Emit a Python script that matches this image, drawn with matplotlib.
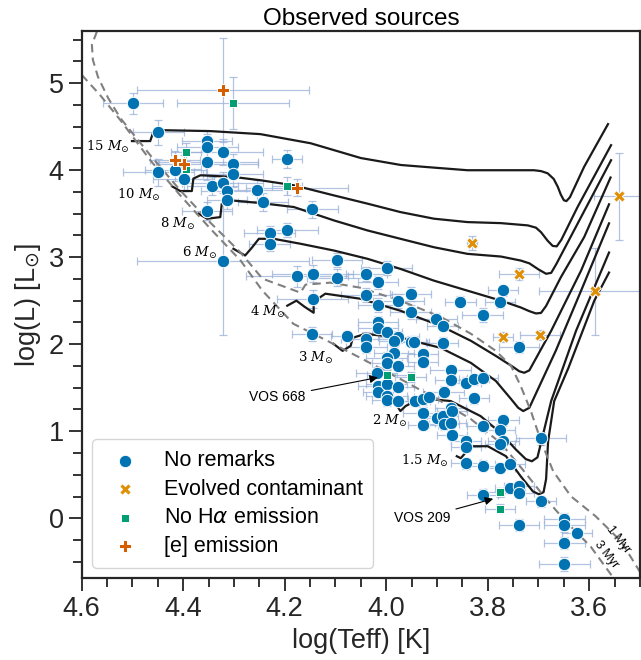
import numpy as np
import matplotlib
matplotlib.use("Agg")
import matplotlib.pyplot as plt

plt.rcParams['font.family'] = ['Liberation Sans', 'DejaVu Sans']
plt.rcParams['mathtext.fontset'] = 'dejavusans'

# --- observed sources: log(Teff), log(L) and errors ---
blue_x = [4.499, 4.449, 4.353, 4.353, 4.322, 4.353, 4.449, 4.416, 4.399, 4.343,
          4.322, 4.302, 4.302, 4.314, 4.314, 4.353, 4.255, 4.243, 4.195, 4.146,
          4.230, 4.230, 4.195, 4.322, 4.097, 4.176, 4.145, 4.097, 4.145, 4.039,
          3.999, 4.016, 4.039, 4.016, 3.976, 3.952, 3.952, 3.854, 3.810, 3.776,
          3.770, 3.901, 3.889, 4.146, 4.078, 4.039, 4.016, 4.016, 3.999, 3.976,
          3.952, 3.945, 3.889, 3.738, 4.039, 3.985, 3.985, 3.927, 3.999, 3.999,
          3.976, 4.019, 4.016, 4.016, 3.999, 3.999, 3.999, 3.976, 3.976, 3.944,
          3.927, 3.916, 3.927, 3.927, 3.900, 3.889, 3.886, 3.873, 3.870, 3.873,
          3.870, 3.873, 3.873, 3.887, 3.843, 3.827, 3.810, 3.827, 3.927, 3.810,
          3.769, 3.776, 3.769, 3.776, 3.695, 3.843, 3.843, 3.843, 3.810, 3.776,
          3.756, 3.756, 3.738, 3.738, 3.810, 3.695, 3.738, 3.649, 3.649, 3.624,
          3.649, 3.649]
blue_y = [4.77, 4.435, 4.335, 4.27, 4.21, 4.09, 3.974, 4.00, 3.896, 3.82,
          3.858, 4.066, 3.96, 3.758, 3.654, 3.53, 3.77, 3.634, 4.127, 3.55,
          3.28, 3.155, 3.31, 2.96, 2.97, 2.78, 2.81, 2.766, 2.52, 2.81,
          2.873, 2.71, 2.566, 2.455, 2.50, 2.578, 2.366, 2.49, 2.336, 2.48,
          2.62, 2.29, 2.21, 2.116, 2.097, 2.06, 2.26, 2.19, 2.143, 2.085,
          2.03, 2.03, 2.02, 1.97, 1.965, 2.04, 1.905, 1.886, 1.847, 1.78,
          1.75, 1.674, 1.52, 1.455, 1.54, 1.405, 1.355, 1.51, 1.347, 1.347,
          1.367, 1.393, 1.213, 1.07, 1.155, 1.174, 1.078, 1.27, 1.232, 1.097,
          0.955, 1.705, 1.59, 1.455, 1.558, 1.597, 1.61, 1.378, 1.80, 1.06,
          1.125, 1.02, 0.886, 0.85, 0.917, 0.886, 0.817, 0.63, 0.605, 0.578,
          0.624, 0.347, 0.367, 0.29, 0.271, 0.194, -0.075, -0.006, -0.083, -0.17,
          -0.287, -0.53]
blue_xerr = [0.06, 0.05, 0.05, 0.06, 0.08, 0.10, 0.07, 0.06, 0.06, 0.05,
             0.08, 0.05, 0.06, 0.05, 0.04, 0.05, 0.06, 0.05, 0.03, 0.05,
             0.05, 0.04, 0.06, 0.17, 0.05, 0.10, 0.08, 0.06, 0.07, 0.04,
             0.05, 0.04, 0.05, 0.04, 0.05, 0.04, 0.04, 0.03, 0.04, 0.03,
             0.03, 0.04, 0.03, 0.04, 0.03, 0.05, 0.04, 0.04, 0.03, 0.04,
             0.03, 0.03, 0.03, 0.04, 0.04, 0.03, 0.04, 0.03, 0.04, 0.03,
             0.03, 0.04, 0.04, 0.03, 0.04, 0.04, 0.03, 0.03, 0.03, 0.03,
             0.03, 0.03, 0.04, 0.03, 0.03, 0.03, 0.03, 0.03, 0.03, 0.03,
             0.03, 0.04, 0.03, 0.04, 0.03, 0.03, 0.03, 0.03, 0.03, 0.03,
             0.03, 0.03, 0.03, 0.03, 0.05, 0.03, 0.03, 0.03, 0.03, 0.03,
             0.03, 0.03, 0.03, 0.03, 0.03, 0.03, 0.04, 0.04, 0.04, 0.03,
             0.04, 0.05]
blue_yerr = [0.12, 0.14, 0.12, 0.15, 0.15, 0.20, 0.15, 0.12, 0.14, 0.10,
             0.12, 0.12, 0.15, 0.10, 0.10, 0.10, 0.12, 0.10, 0.10, 0.10,
             0.08, 0.08, 0.08, 0.85, 0.08, 0.12, 0.10, 0.10, 0.10, 0.08,
             0.08, 0.08, 0.08, 0.08, 0.08, 0.08, 0.08, 0.06, 0.08, 0.06,
             0.06, 0.07, 0.06, 0.08, 0.06, 0.08, 0.07, 0.07, 0.06, 0.07,
             0.06, 0.06, 0.06, 0.07, 0.06, 0.06, 0.06, 0.06, 0.06, 0.06,
             0.06, 0.06, 0.06, 0.06, 0.06, 0.06, 0.06, 0.06, 0.06, 0.06,
             0.06, 0.06, 0.06, 0.06, 0.06, 0.06, 0.06, 0.06, 0.06, 0.06,
             0.06, 0.06, 0.06, 0.06, 0.06, 0.06, 0.06, 0.06, 0.06, 0.06,
             0.06, 0.06, 0.06, 0.06, 0.08, 0.06, 0.06, 0.06, 0.06, 0.06,
             0.06, 0.06, 0.06, 0.06, 0.06, 0.06, 0.07, 0.07, 0.07, 0.06,
             0.07, 0.08]

evol_x = [3.541, 3.831, 3.738, 3.588, 3.770, 3.697]
evol_y = [3.70, 3.16, 2.81, 2.61, 2.085, 2.105]
evol_xerr = [0.05, 0.01, 0.04, 0.11, 0.02, 0.04]
evol_yerr = [0.50, 0.08, 0.07, 0.50, 0.06, 0.06]

noha_x = [4.302, 4.395, 4.395, 4.195, 3.998, 3.952, 3.776, 3.776]
noha_y = [4.776, 4.21, 4.01, 3.82, 1.647, 1.624, 0.30, 0.11]
noha_xerr = [0.11, 0.03, 0.03, 0.03, 0.04, 0.03, 0.03, 0.03]
noha_yerr = [0.30, 0.10, 0.10, 0.10, 0.06, 0.06, 0.05, 0.05]

emis_x = [4.322, 4.416, 4.398, 4.176]
emis_y = [4.92, 4.12, 4.07, 3.80]
emis_xerr = [0.17, 0.05, 0.05, 0.10]
emis_yerr = [0.60, 0.10, 0.10, 0.10]

# --- pre-main-sequence tracks ---
trk15_x = [4.501, 4.465, 4.459, 4.439, 4.347, 4.248, 4.149, 4.050, 3.971, 3.906,
           3.840, 3.775, 3.709, 3.695, 3.682, 3.670, 3.662, 3.656, 3.650, 3.645,
           3.638, 3.610, 3.563]
trk15_y = [4.335, 4.335, 4.44, 4.46, 4.45, 4.415, 4.31, 4.14, 4.06, 4.03,
           4.00, 4.00, 4.00, 3.99, 3.965, 3.90, 3.81, 3.72, 3.655, 3.645,
           3.69, 4.04, 4.53]
trk10_x = [4.422, 4.406, 4.383, 4.380, 4.366, 4.301, 4.248, 4.182, 4.104, 4.037,
           3.972, 3.906, 3.840, 3.774, 3.721, 3.705, 3.695, 3.682, 3.672, 3.664,
           3.655, 3.623, 3.557]
trk10_y = [3.815, 3.761, 3.761, 3.904, 3.942, 3.923, 3.885, 3.827, 3.712, 3.616,
           3.519, 3.443, 3.404, 3.392, 3.366, 3.34, 3.288, 3.19, 3.13, 3.125,
           3.20, 3.577, 4.288]
trk8_x = [4.370, 4.353, 4.327, 4.324, 4.307, 4.248, 4.182, 4.103, 4.037, 3.972,
          3.906, 3.840, 3.774, 3.735, 3.718, 3.700, 3.685, 3.675, 3.665, 3.623,
          3.557]
trk8_y = [3.501, 3.443, 3.461, 3.616, 3.654, 3.623, 3.577, 3.423, 3.308, 3.212,
          3.115, 3.039, 3.008, 2.962, 2.93, 2.86, 2.81, 2.82, 2.92, 3.385,
          4.115]
trk6_x = [4.301, 4.278, 4.264, 4.251, 4.222, 4.169, 4.103, 4.037, 3.972, 3.906,
          3.840, 3.774, 3.735, 3.718, 3.705, 3.695, 3.685, 3.656, 3.610, 3.558]
trk6_y = [3.097, 3.020, 3.115, 3.212, 3.212, 3.155, 3.077, 2.982, 2.866, 2.731,
          2.616, 2.501, 2.423, 2.38, 2.354, 2.36, 2.44, 2.769, 3.231, 3.916]
trk4_x = [4.195, 4.177, 4.161, 4.143, 4.143, 4.120, 4.051, 3.972, 3.893, 3.833,
          3.784, 3.750, 3.738, 3.728, 3.718, 3.675, 3.616, 3.561]
trk4_y = [2.443, 2.501, 2.431, 2.362, 2.489, 2.581, 2.523, 2.385, 2.212, 2.039,
          1.866, 1.739, 1.69, 1.672, 1.70, 2.154, 2.847, 3.608]
trk3_x = [4.104, 4.086, 4.070, 4.066, 4.041, 3.972, 3.893, 3.833, 3.784, 3.754,
          3.740, 3.730, 3.718, 3.666, 3.616, 3.561]
trk3_y = [2.005, 1.924, 1.982, 2.074, 2.120, 2.074, 1.959, 1.785, 1.578, 1.370,
          1.27, 1.232, 1.27, 1.924, 2.616, 3.389]
trk2_x = [3.981, 3.972, 3.962, 3.932, 3.873, 3.814, 3.774, 3.745, 3.725, 3.713,
          3.702, 3.675, 3.626, 3.561]
trk2_y = [1.312, 1.232, 1.289, 1.381, 1.347, 1.174, 0.978, 0.793, 0.68, 0.655,
          0.70, 1.347, 2.154, 3.054]
trk15b_x = [3.861, 3.853, 3.833, 3.800, 3.764, 3.735, 3.711, 3.699, 3.690, 3.685,
            3.681, 3.669, 3.641, 3.590, 3.561]
trk15b_y = [0.713, 0.690, 0.828, 0.828, 0.713, 0.482, 0.309, 0.275, 0.30, 0.45,
            0.886, 1.347, 1.728, 2.501, 2.824]

track_labels = ['15 $M_{\\odot}$', '10 $M_{\\odot}$', '8 $M_{\\odot}$', '6 $M_{\\odot}$',
                '4 $M_{\\odot}$', '3 $M_{\\odot}$', '2 $M_{\\odot}$', '1.5 $M_{\\odot}$']
label_x = [4.505, 4.445, 4.376, 4.333, 4.199, 4.104, 3.958, 3.876]
label_y = [4.269, 3.712, 3.385, 3.05, 2.366, 1.847, 1.116, 0.655]

# --- isochrones ---
iso1_x = [4.570, 4.580, 4.578, 4.568, 4.548, 4.524, 4.465, 4.406, 4.347, 4.287,
          4.244, 4.169, 4.159, 4.110, 4.051, 3.972, 3.893, 3.833, 3.784, 3.754,
          3.735, 3.715, 3.695, 3.671, 3.636, 3.587, 3.537, 3.498]
iso1_y = [5.595, 5.442, 5.268, 5.073, 4.830, 4.600, 4.173, 3.769, 3.400, 3.054,
          2.754, 2.593, 2.685, 2.708, 2.650, 2.500, 2.316, 2.120, 1.924, 1.751,
          1.520, 1.232, 0.886, 0.540, 0.252, 0.021, -0.267, -0.636]
iso3_x = [4.600, 4.564, 4.524, 4.465, 4.406, 4.347, 4.287, 4.244, 4.183, 4.116,
          4.051, 3.972, 3.893, 3.833, 3.774, 3.725, 3.686, 3.646, 3.597, 3.551]
iso3_y = [5.096, 4.865, 4.577, 4.115, 3.712, 3.331, 2.962, 2.616, 2.235, 2.039,
          1.843, 1.600, 1.347, 1.139, 0.862, 0.516, 0.228, -0.038, -0.327, -0.696]

fig = plt.figure(figsize=(6.41, 6.60), dpi=100)
ax = fig.add_axes([0.1275, 0.1238, 0.8709, 0.8292])

err_kw = dict(fmt='none', ecolor='#98afd8', elinewidth=0.9, capsize=3, capthick=0.9,
              alpha=0.75, zorder=1)
ax.errorbar(blue_x, blue_y, xerr=blue_xerr, yerr=blue_yerr, **err_kw)
ax.errorbar(evol_x, evol_y, xerr=evol_xerr, yerr=evol_yerr, **err_kw)
ax.errorbar(noha_x, noha_y, xerr=noha_xerr, yerr=noha_yerr, **err_kw)
ax.errorbar(emis_x, emis_y, xerr=emis_xerr, yerr=emis_yerr, **err_kw)

tracks = [(trk15_x, trk15_y), (trk10_x, trk10_y), (trk8_x, trk8_y), (trk6_x, trk6_y),
          (trk4_x, trk4_y), (trk3_x, trk3_y), (trk2_x, trk2_y), (trk15b_x, trk15b_y)]
for tx, ty in tracks:
    ax.plot(tx, ty, color='#1a1a1a', lw=1.6, zorder=2, solid_joinstyle='round')
for lab, lx, ly in zip(track_labels, label_x, label_y):
    ax.text(lx, ly, lab, ha='right', va='center', fontsize=9.5,
            family='DejaVu Serif', math_fontfamily='dejavuserif', zorder=4)

ax.plot(iso1_x, iso1_y, color='gray', ls=(0, (4, 2.5)), lw=1.5, zorder=2)
ax.plot(iso3_x, iso3_y, color='gray', ls=(0, (4, 2.5)), lw=1.5, zorder=2)
ax.text(3.543, -0.249, '1 Myr', rotation=-52, ha='center', va='center', fontsize=9)
ax.text(3.567, -0.42, '3 Myr', rotation=-52, ha='center', va='center', fontsize=9)

ax.scatter(blue_x, blue_y, s=80, marker='o', color='#0173b2', edgecolor='white',
           linewidth=0.7, label='No remarks', zorder=3)
ax.scatter(evol_x, evol_y, s=70, marker='X', color='#de8f05', edgecolor='white',
           linewidth=0.7, label='Evolved contaminant', zorder=3)
ax.scatter(noha_x, noha_y, s=35, marker='s', color='#029e73', edgecolor='white',
           linewidth=0.7, label=r'No H$\alpha$ emission', zorder=3)
ax.scatter(emis_x, emis_y, s=80, marker='P', color='#d55e00', edgecolor='white',
           linewidth=0.7, label='[e] emission', zorder=3)

arrow = dict(arrowstyle='-|>', color='black', lw=0.8, mutation_scale=12)
ax.annotate('VOS 668', xy=(4.011, 1.624), xytext=(4.214, 1.393), fontsize=10,
            ha='center', va='center', arrowprops=arrow)
ax.annotate('VOS 209', xy=(3.784, 0.232), xytext=(3.929, 0.0), fontsize=10,
            ha='center', va='center', arrowprops=arrow)

ax.set_xlim(4.6, 3.5)
ax.set_ylim(-0.69, 5.6)
ax.set_xticks([4.6, 4.4, 4.2, 4.0, 3.8, 3.6])
ax.set_xticks(np.arange(3.5, 4.6, 0.05), minor=True)
ax.set_yticks([0, 1, 2, 3, 4, 5])
ax.set_yticks(np.arange(-0.5, 5.6, 0.25), minor=True)
ax.tick_params(which='major', length=9.5, width=1.4, labelsize=19.5, color='#333333',
               labelcolor='#262626')
ax.tick_params(which='minor', length=6.5, width=1.4, color='#333333')
for sp in ax.spines.values():
    sp.set_linewidth(1.6)
    sp.set_color('#262626')

ax.set_xlabel('log(Teff) [K]', fontsize=19.5, color='#262626')
ax.set_ylabel(r'log(L) [L$_{\odot}$]', fontsize=19.5, color='#262626', labelpad=4)
ax.set_title('Observed sources', fontsize=17.5, pad=4)

leg = ax.legend(loc='lower left', fontsize=15.5, frameon=True, fancybox=True,
                edgecolor='#cccccc', handletextpad=0.8, borderpad=0.5,
                labelspacing=0.35, handlelength=2.0)

fig.savefig('out.png', dpi=100)
